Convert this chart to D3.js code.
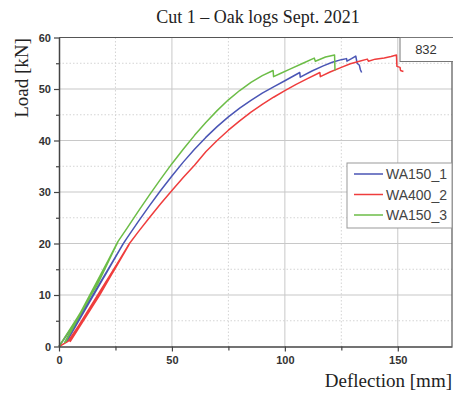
<!DOCTYPE html>
<html>
<head>
<meta charset="utf-8">
<script src="https://cdn.jsdelivr.net/npm/d3@7"></script>
<style>
  body { margin: 0; background: #fff; }
  svg { display: block; }
</style>
</head>
<body>
<svg id="canvas" width="453" height="394"></svg>
<script>
// [deflection mm, load kN]
let wa150_1 = [
  [0, 0], [10, 6.5], [20, 13.5], [28.5, 20], [3, 0.9], [15, 10], [28.2, 19.8], [3.5, 1], [16, 10.5], [28.8, 20.2],
  [30, 21], [35, 24.2], [40, 27.3], [45, 30.3], [50, 33.1], [55, 35.8], [60, 38.3], [65, 40.6], [70, 42.7],
  [75, 44.6], [80, 46.3], [85, 47.8], [90, 49.2], [95, 50.4], [100, 51.6], [106.6, 53.2], [106.8, 52.3],
  [112, 53.5], [117, 54.5], [121, 55.2], [125, 55.7], [127.3, 55.9], [127.5, 55.4], [129.5, 55.9], [131.4, 56.4],
  [132, 55], [133, 54.6], [133.4, 53.8], [134, 53.2]
]
let wa400_2 = [
  [0, 0], [4, 1], [14, 7.5], [24, 14.5], [31, 19.8], [4.5, 1.1], [17, 9.5], [30.6, 19.6], [5, 1], [18, 10], [31.2, 20],
  [35, 22.2], [40, 25], [45, 27.7], [50, 30.3], [55, 32.8], [60, 35.2], [65, 37.8], [70, 40], [75, 42],
  [80, 43.8], [85, 45.5], [90, 47], [95, 48.4], [100, 49.7], [105, 50.9], [110, 52], [115.5, 53.2], [115.7, 52.4],
  [120, 53.3], [125, 54.2], [129, 54.9], [133, 55.4], [136.5, 55.8], [137, 55.4], [140, 55.8], [144, 56],
  [147, 56.3], [149.4, 56.6], [149.6, 54.4], [151, 54.2], [151.2, 53.6], [152.5, 53.4]
]
let wa150_3 = [
  [0, 0], [8, 5.5], [17, 12], [25.5, 19.8], [2.5, 0.8], [13, 9], [26, 20.2], [3, 1], [12.5, 8.8], [26, 20.3],
  [30, 22.9], [35, 26.2], [40, 29.4], [45, 32.5], [50, 35.5], [55, 38.3], [60, 41], [65, 43.5], [70, 45.8],
  [75, 47.9], [80, 49.7], [85, 51.3], [90, 52.6], [94.8, 53.6], [95, 52.4], [98, 53], [102, 53.8], [108, 55],
  [113, 56], [113.5, 55.4], [118, 56.2], [122, 56.6], [122.2, 53.6]
]

let seriesNames = ['WA150_1', 'WA400_2', 'WA150_3']
let seriesColors = ['#4a55b5', '#ef3d3d', '#6cbd47']
let seriesData = [wa150_1, wa400_2, wa150_3]

let xMajorTicks = [0, 50, 100, 150]
let xMinorTicks = [25, 75, 125]
let yMajorTicks = [0, 10, 20, 30, 40, 50, 60]
let yMinorTicks = [5, 15, 25, 35, 45, 55]

let titleText = 'Cut 1 \u2013 Oak logs Sept. 2021'
let xLabel = 'Deflection [mm]'
let yLabel = 'Load [kN]'
let boxLabel = '832'

let plotLeft = 59, plotRight = 452, plotTop = 37.5, plotBottom = 346.5

let canvas = d3.select('#canvas')

let xScale = d3.scaleLinear().domain([0, 174]).range([plotLeft, plotRight])
let yScale = d3.scaleLinear().domain([0, 60]).range([plotBottom, plotTop])

// grid
let grid = canvas.append('g')
grid.selectAll('.xminor').data(xMinorTicks).enter().append('line')
  .attr('x1', d => xScale(d)).attr('x2', d => xScale(d))
  .attr('y1', plotTop).attr('y2', plotBottom)
  .attr('stroke', '#d4d4d4').attr('stroke-dasharray', '1.5,2')
grid.selectAll('.yminor').data(yMinorTicks).enter().append('line')
  .attr('x1', plotLeft).attr('x2', plotRight)
  .attr('y1', d => yScale(d)).attr('y2', d => yScale(d))
  .attr('stroke', '#d4d4d4').attr('stroke-dasharray', '1.5,2')
grid.selectAll('.xmajor').data(xMajorTicks.slice(1)).enter().append('line')
  .attr('x1', d => xScale(d)).attr('x2', d => xScale(d))
  .attr('y1', plotTop).attr('y2', plotBottom)
  .attr('stroke', '#c8c8c8').attr('stroke-width', 1)
grid.selectAll('.ymajor').data(yMajorTicks.slice(1, -1)).enter().append('line')
  .attr('x1', plotLeft).attr('x2', plotRight)
  .attr('y1', d => yScale(d)).attr('y2', d => yScale(d))
  .attr('stroke', '#c8c8c8').attr('stroke-width', 1.2)

// curves
let line = d3.line().x(d => xScale(d[0])).y(d => yScale(d[1]))
canvas.append('g').selectAll('path')
  .data(seriesData)
  .enter()
  .append('path')
  .attr('d', line)
  .attr('fill', 'none')
  .attr('stroke', (d, i) => seriesColors[i])
  .attr('stroke-width', 1.5)
  .attr('stroke-linejoin', 'round')

// frame top / right
canvas.append('line').attr('x1', plotLeft).attr('x2', plotRight).attr('y1', plotTop).attr('y2', plotTop)
  .attr('stroke', '#555').attr('stroke-width', 1.2)
canvas.append('line').attr('x1', plotRight).attr('x2', plotRight).attr('y1', plotTop).attr('y2', plotBottom)
  .attr('stroke', '#555').attr('stroke-width', 1.2)

// axes
let xAxis = d3.axisBottom(xScale).tickValues(xMajorTicks).tickSize(5).tickSizeOuter(0)
let yAxis = d3.axisLeft(yScale).tickValues(yMajorTicks).tickSize(5).tickSizeOuter(0)
let xAxisMinor = d3.axisBottom(xScale).tickValues(xMinorTicks).tickSize(4).tickFormat('').tickSizeOuter(0)
let yAxisMinor = d3.axisLeft(yScale).tickValues(yMinorTicks).tickSize(3).tickFormat('').tickSizeOuter(0)

let gx = canvas.append('g').attr('transform', `translate(0,${plotBottom})`).call(xAxis)
canvas.append('g').attr('transform', `translate(0,${plotBottom})`).call(xAxisMinor)
  .call(g => g.select('.domain').remove())
let gy = canvas.append('g').attr('transform', `translate(${plotLeft},0)`).call(yAxis)
canvas.append('g').attr('transform', `translate(${plotLeft},0)`).call(yAxisMinor)
  .call(g => g.select('.domain').remove())

canvas.selectAll('.domain').attr('stroke', '#444').attr('stroke-width', 1.5)
canvas.selectAll('.tick line').attr('stroke', '#444').attr('stroke-width', 1.2)
canvas.selectAll('.tick text')
  .attr('font-family', 'Liberation Sans, Arial, sans-serif')
  .attr('font-size', 11)
  .attr('font-weight', 'bold')
  .attr('fill', '#333')
gx.selectAll('.tick text').attr('dy', '0.9em')
gy.selectAll('.tick text').attr('x', -8)

// titles
canvas.append('text')
  .attr('x', 258).attr('y', 23)
  .attr('text-anchor', 'middle')
  .attr('font-family', 'Liberation Serif, Times New Roman, serif')
  .attr('font-size', 18)
  .attr('fill', '#222')
  .text(titleText)

canvas.append('text')
  .attr('transform', 'translate(28,78) rotate(-90)')
  .attr('text-anchor', 'middle')
  .attr('font-family', 'Liberation Serif, Times New Roman, serif')
  .attr('font-size', 19)
  .attr('fill', '#222')
  .text(yLabel)

canvas.append('text')
  .attr('x', 452).attr('y', 387)
  .attr('text-anchor', 'end')
  .attr('font-family', 'Liberation Serif, Times New Roman, serif')
  .attr('font-size', 19)
  .attr('fill', '#222')
  .text(xLabel)

// 832 box
canvas.append('rect')
  .attr('x', 400).attr('y', plotTop).attr('width', 60).attr('height', 24)
  .attr('fill', '#fff').attr('stroke', '#777').attr('stroke-width', 1)
canvas.append('text')
  .attr('x', 426).attr('y', 54)
  .attr('text-anchor', 'middle')
  .attr('font-family', 'Liberation Sans, Arial, sans-serif')
  .attr('font-size', 13)
  .attr('fill', '#333')
  .text(boxLabel)

// legend
let legend = canvas.append('g')
legend.append('rect')
  .attr('x', 347).attr('y', 163).attr('width', 105).attr('height', 65)
  .attr('fill', '#fff').attr('stroke', '#999').attr('stroke-width', 1)
let entries = legend.selectAll('.entry')
  .data(seriesNames)
  .enter()
  .append('g')
  .attr('transform', (d, i) => `translate(0,${174 + i * 20.5})`)
entries.append('line')
  .attr('x1', 354).attr('x2', 383).attr('y1', 0).attr('y2', 0)
  .attr('stroke', (d, i) => seriesColors[i]).attr('stroke-width', 1.5)
entries.append('text')
  .attr('x', 386).attr('y', 5)
  .attr('font-family', 'Liberation Sans, Arial, sans-serif')
  .attr('font-size', 14)
  .attr('fill', '#444')
  .text(d => d)
</script>
</body>
</html>
